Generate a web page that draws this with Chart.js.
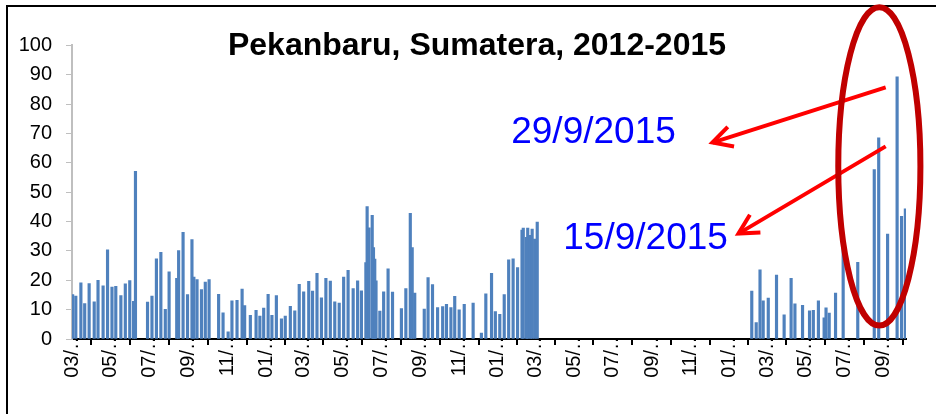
<!DOCTYPE html>
<html>
<head>
<meta charset="utf-8">
<script src="https://cdn.jsdelivr.net/npm/chart.js@4.4.1/dist/chart.umd.min.js"></script>
<style>
html,body{margin:0;padding:0;background:#fff;}
#wrap{width:936px;height:414px;position:relative;}
</style>
</head>
<body>
<div id="wrap"><canvas id="c" width="936" height="414"></canvas></div>
<script>
// ---------- DATA ----------
const titleText = 'Pekanbaru, Sumatera, 2012-2015';

const dates = [
  '2012-03-02','2012-03-07','2012-03-15','2012-03-21','2012-03-28','2012-04-05','2012-04-11','2012-04-19',
  '2012-04-26','2012-05-03','2012-05-09','2012-05-17','2012-05-24','2012-05-31','2012-06-06','2012-06-09',
  '2012-06-28','2012-07-05','2012-07-12','2012-07-19','2012-07-26','2012-08-01','2012-08-13','2012-08-16',
  '2012-08-23','2012-08-30','2012-09-06','2012-09-09','2012-09-14','2012-09-21','2012-09-27','2012-10-03',
  '2012-10-18','2012-10-25','2012-11-02','2012-11-08','2012-11-16','2012-11-24','2012-11-28','2012-12-07',
  '2012-12-16','2012-12-22','2012-12-28','2013-01-04','2013-01-10','2013-01-17','2013-01-25','2013-01-31',
  '2013-02-08','2013-02-15','2013-02-22','2013-03-01','2013-03-09','2013-03-15','2013-03-22','2013-03-29',
  '2013-04-05','2013-04-12','2013-04-19','2013-04-26','2013-05-03','2013-05-10','2013-05-18','2013-05-25',
  '2013-05-31','2013-06-07','2013-06-09','2013-06-12','2013-06-17','2013-06-19','2013-06-21','2013-06-23',
  '2013-06-29','2013-07-05','2013-07-12','2013-07-19','2013-08-02','2013-08-09','2013-08-16','2013-08-19',
  '2013-08-23','2013-09-07','2013-09-13','2013-09-20','2013-09-28','2013-10-06','2013-10-12','2013-10-19',
  '2013-10-25','2013-11-01','2013-11-09','2013-11-23','2013-12-06','2013-12-13','2013-12-22','2013-12-28',
  '2014-01-04','2014-01-11','2014-01-18','2014-01-25','2014-02-01','2014-02-08','2014-02-10','2014-02-15',
  '2014-02-17','2014-02-21','2014-02-24','2014-02-28','2014-03-04',
  '2015-02-05','2015-02-12','2015-02-18','2015-02-23','2015-03-03','2015-03-16','2015-03-28','2015-04-08',
  '2015-04-14','2015-04-26','2015-05-07','2015-05-13','2015-05-21','2015-05-30','2015-06-02','2015-06-07',
  '2015-06-17','2015-06-29','2015-07-22','2015-08-17','2015-08-24','2015-09-07','2015-09-22','2015-09-29',
  '2015-10-05'
];

const values = [
  15.1,14.6,19.1,12.1,18.9,12.7,20.0,18.1,
  30.4,17.7,17.9,14.8,18.8,19.9,12.8,57.1,
  12.6,14.6,27.3,29.5,10.1,22.9,20.7,30.1,
  36.3,15.1,33.9,21.1,20.2,16.8,19.4,20.2,
  15.2,8.9,2.4,13.0,13.2,17.0,11.4,8.1,
  9.8,7.8,10.5,15.2,8.1,14.8,6.9,7.8,
  11.1,9.6,18.6,16.1,19.6,16.3,22.4,14.0,
  20.7,19.7,12.7,12.2,21.1,23.4,17.2,19.8,
  16.4,26.0,45.1,37.9,42.1,31.1,27.2,19.8,
  9.5,16.1,23.9,16.0,10.4,17.2,42.8,31.1,
  15.6,10.2,20.9,18.5,10.7,11.0,11.8,10.7,
  14.5,9.9,11.8,12.2,2.0,15.4,22.4,9.3,
  8.4,15.1,27.0,27.3,24.3,37.1,37.8,34.6,
  37.8,35.3,37.4,34.0,39.8,
  16.3,5.6,23.6,13.0,13.9,21.8,8.2,20.7,
  12.0,11.5,9.6,9.8,13.0,7.2,10.6,8.8,
  15.6,32.0,26.1,57.7,68.5,35.7,89.3,41.8,
  44.3
];

const tickDates = [
  '2012-03-01','2012-05-01','2012-07-01','2012-09-01','2012-11-01',
  '2013-01-01','2013-03-01','2013-05-01','2013-07-01','2013-09-01','2013-11-01',
  '2014-01-01','2014-03-01','2014-05-01','2014-07-01','2014-09-01','2014-11-01',
  '2015-01-01','2015-03-01','2015-05-01','2015-07-01','2015-09-01'
];
const tickLabels = [
  '03/…','05/…','07/…','09/…','11/…',
  '01/…','03/…','05/…','07/…','09/…','11/…',
  '01/…','03/…','05/…','07/…','09/…','11/…',
  '01/…','03/…','05/…','07/…','09/…'
];

const axisStart = '2012-03-01';
const axisEnd = '2015-10-06';

// annotation texts and their anchors in data coordinates [date, value]
const noteTexts = ['29/9/2015', '15/9/2015'];
const noteAnchors = [['2014-01-22', 66.6], ['2014-04-14', 30.8]];
// arrows: [fromDate, fromValue, toDate, toValue]
const arrows = [
  ['2015-09-04', 85.7, '2014-12-05', 66.9],
  ['2015-09-04', 65.6, '2015-01-15', 35.9]
];
// highlight ellipse: centre [date, value], radii [days, value units]
const ellipseCentre = ['2015-08-25', 58.8];
const ellipseRadii = [64.7, 54.2];

// ---------- HELPERS ----------
function dayNum(s) {
  const p = s.split('-').map(Number);
  const a = axisStart.split('-').map(Number);
  return (Date.UTC(p[0], p[1] - 1, p[2]) - Date.UTC(a[0], a[1] - 1, a[2])) / 86400000;
}
const FONT = '"Liberation Sans", Arial, Helvetica, sans-serif';
Chart.defaults.font.family = FONT;

const overlay = {
  id: 'overlay',
  afterDraw(chart) {
    const ctx = chart.ctx;
    const xs = chart.scales.x, ys = chart.scales.y;
    const px = d => xs.getPixelForValue(dayNum(d));
    const py = v => ys.getPixelForValue(v);
    ctx.save();
    // frame
    ctx.strokeStyle = '#000';
    ctx.lineWidth = 2;
    ctx.strokeRect(7, 6, 1000, 1000);
    // notes
    ctx.fillStyle = '#0000FF';
    ctx.font = '37px ' + FONT;
    ctx.textBaseline = 'alphabetic';
    ctx.textAlign = 'left';
    noteTexts.forEach((t, i) => ctx.fillText(t, px(noteAnchors[i][0]), py(noteAnchors[i][1])));
    // arrows
    ctx.strokeStyle = '#FF0000';
    ctx.lineWidth = 4;
    ctx.lineCap = 'butt';
    arrows.forEach(a => {
      const x1 = px(a[0]), y1 = py(a[1]), x2 = px(a[2]), y2 = py(a[3]);
      ctx.beginPath(); ctx.moveTo(x1, y1); ctx.lineTo(x2, y2); ctx.stroke();
      const ang = Math.atan2(y1 - y2, x1 - x2);
      const L = 22, s = 28 * Math.PI / 180;
      ctx.beginPath();
      ctx.moveTo(x2 + L * Math.cos(ang + s), y2 + L * Math.sin(ang + s));
      ctx.lineTo(x2, y2);
      ctx.lineTo(x2 + L * Math.cos(ang - s), y2 + L * Math.sin(ang - s));
      ctx.stroke();
    });
    // ellipse
    const cx = px(ellipseCentre[0]), cy = py(ellipseCentre[1]);
    const rx = Math.abs(xs.getPixelForValue(ellipseRadii[0]) - xs.getPixelForValue(0));
    const ry = Math.abs(ys.getPixelForValue(ellipseRadii[1]) - ys.getPixelForValue(0));
    ctx.strokeStyle = '#C00000';
    ctx.lineWidth = 6;
    ctx.beginPath();
    ctx.ellipse(cx, cy, rx, ry, 0, 0, Math.PI * 2);
    ctx.stroke();
    ctx.restore();
  }
};

new Chart(document.getElementById('c'), {
  type: 'bar',
  data: {
    datasets: [{
      data: dates.map((d, i) => ({ x: dayNum(d), y: values[i] })),
      backgroundColor: '#4F81BD',
      borderWidth: 0,
      barThickness: 2.5
    }]
  },
  options: {
    responsive: false,
    animation: false,
    layout: { padding: { left: 18, right: 0, top: 0, bottom: 0 } },
    plugins: {
      legend: { display: false },
      tooltip: { enabled: false },
      title: {
        display: true,
        text: titleText,
        color: '#000',
        font: { family: FONT, size: 32, weight: 'bold' },
        padding: { top: 27, bottom: -20 }
      }
    },
    scales: {
      x: {
        type: 'linear',
        min: 0,
        max: dayNum(axisEnd),
        offset: false,
        grid: { drawOnChartArea: false, drawTicks: true, tickLength: 6, color: '#000', lineWidth: 2 },
        border: { color: '#000', width: 2 },
        ticks: {
          autoSkip: false, maxRotation: 90, minRotation: 90, padding: -15,
          color: '#000', font: { family: FONT, size: 20 },
          callback: (v, i) => tickLabels[i]
        },
        afterBuildTicks: s => { s.ticks = tickDates.map(d => ({ value: dayNum(d) })); },
        afterFit: s => { s.height = 75; s.paddingRight = 30; }
      },
      y: {
        min: 0, max: 100,
        grid: { drawOnChartArea: false, drawTicks: true, tickLength: 6, color: '#BFBFBF', lineWidth: 1 },
        border: { color: '#BFBFBF', width: 2 },
        ticks: { stepSize: 10, padding: 14, color: '#000', font: { family: FONT, size: 20 } },
        afterFit: s => { s.width = 54; }
      }
    }
  },
  plugins: [overlay]
});
</script>
</body>
</html>
